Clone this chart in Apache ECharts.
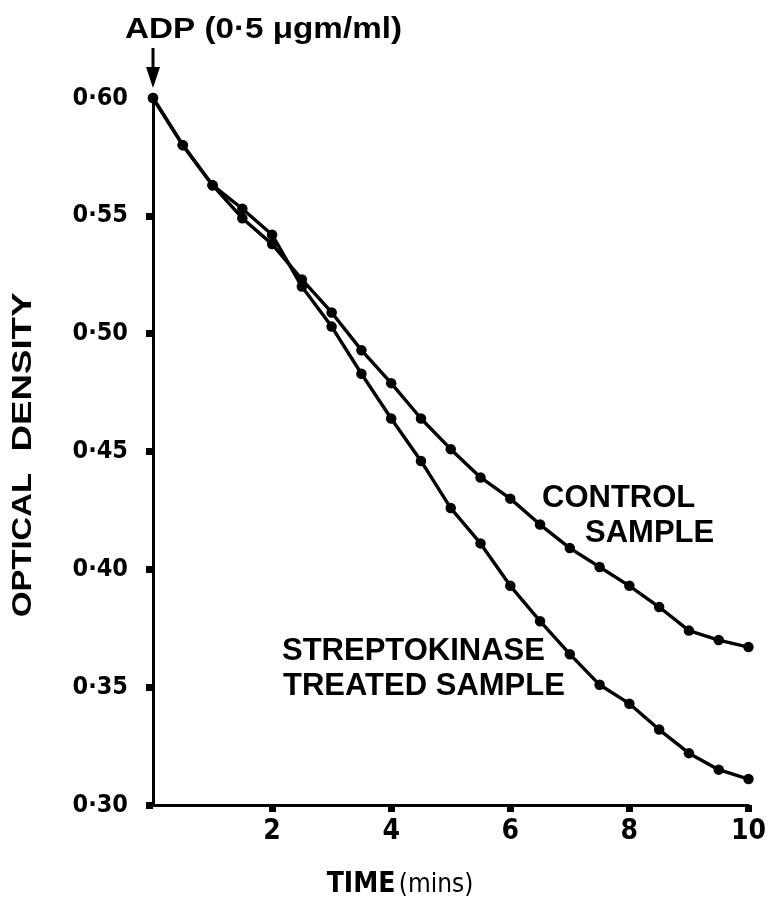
<!DOCTYPE html>
<html><head><meta charset="utf-8">
<script src="https://cdn.jsdelivr.net/npm/echarts@6/dist/echarts.min.js"></script>
<style>html,body{margin:0;padding:0;background:#fff}#c{width:769px;height:905px}</style>
</head><body><div id="c"></div>
<script>
const times = [0,0.5,1,1.5,2,2.5,3,3.5,4,4.5,5,5.5,6,6.5,7,7.5,8,8.5,9,9.5,10];
const controlOD = [0.600,0.580,0.563,0.549,0.538,0.523,0.509,0.493,0.479,0.464,0.451,0.439,0.430,0.419,0.409,0.401,0.393,0.384,0.374,0.370,0.367];
const streptoOD = [0.600,0.580,0.563,0.553,0.542,0.520,0.503,0.483,0.464,0.446,0.426,0.411,0.393,0.378,0.364,0.351,0.343,0.332,0.322,0.315,0.311];
const yTicks = [0.30,0.35,0.40,0.45,0.50,0.55,0.60];
const xTicks = [2,4,6,8,10];

const narrow = "'Liberation Sans Narrow','DejaVu Sans Condensed','Liberation Sans',sans-serif";
const sans = "'Liberation Sans',Arial,sans-serif";

const mctx = document.createElement('canvas').getContext('2d');
function fit(text, font, target){ mctx.font = font; const w = mctx.measureText(text).width; return w > 0 ? target / w : 1; }

const chart = echarts.init(document.getElementById('c'), null, {renderer:'canvas'});
const pair = arr => times.map((t,i)=>[t,arr[i]]);
const lineSeries = (name, arr) => ({
  name, type:'line', data: pair(arr), symbol:'circle', symbolSize:10.5,
  lineStyle:{color:'#000', width:3.4}, itemStyle:{color:'#000'}, animation:false, silent:true
});
chart.setOption({
  animation:false,
  grid:{left:153, right:18, top:98, bottom:100, containLabel:false},
  xAxis:{type:'value', min:0, max:10, interval:2,
    axisLine:{lineStyle:{color:'#000', width:3}},
    axisTick:{show:true, length:7, lineStyle:{color:'#000', width:7}, customValues: xTicks},
    axisLabel:{color:'#000', fontFamily:narrow, fontWeight:'bold', fontSize:28, margin:13,
      customValues: xTicks, formatter: v => String(v)},
    splitLine:{show:false}
  },
  yAxis:{type:'value', min:0.30, max:0.60, interval:0.05,
    axisLine:{lineStyle:{color:'#000', width:3}},
    axisTick:{show:true, length:7, lineStyle:{color:'#000', width:7}, customValues: yTicks.slice(0,6)},
    axisLabel:{color:'#000', fontFamily:narrow, fontWeight:'bold', fontSize:25, margin:25,
      customValues: yTicks, formatter: v => v.toFixed(2).replace('.', '·')},
    splitLine:{show:false}
  },
  series:[lineSeries('Control sample', controlOD), lineSeries('Streptokinase treated sample', streptoOD)]
});

const p0 = chart.convertToPixel({gridIndex:0}, [0, 0.60]);
const titleFont = 'bold 29px ' + sans;
const titleText = 'ADP (0·5 μgm/ml)';
const axFont = 'bold 28px ' + sans;
const lblFont = 'bold 31px ' + sans;
chart.setOption({graphic:[
  {type:'text', x:125, y:30, scaleX: fit(titleText, titleFont, 277), style:{text:titleText, fill:'#000', font:titleFont, align:'left', verticalAlign:'middle'}},
  {type:'line', shape:{x1:p0[0], y1:p0[1]-50, x2:p0[0], y2:p0[1]-24}, style:{stroke:'#000', lineWidth:3}},
  {type:'polygon', shape:{points:[[p0[0]-7,p0[1]-31],[p0[0]+7,p0[1]-31],[p0[0],p0[1]-10]]}, style:{fill:'#000'}},
  {type:'text', x:23, y:545, rotation:Math.PI/2, scaleX: fit('OPTICAL', axFont, 144), style:{text:'OPTICAL', fill:'#000', font:axFont, align:'center', verticalAlign:'middle'}},
  {type:'text', x:23, y:372, rotation:Math.PI/2, scaleX: fit('DENSITY', axFont, 159), style:{text:'DENSITY', fill:'#000', font:axFont, align:'center', verticalAlign:'middle'}},
  {type:'text', x:542, y:498, style:{text:'CONTROL', fill:'#000', font:lblFont, align:'left', verticalAlign:'middle'}},
  {type:'text', x:585, y:533, style:{text:'SAMPLE', fill:'#000', font:lblFont, align:'left', verticalAlign:'middle'}},
  {type:'text', x:282, y:651, style:{text:'STREPTOKINASE', fill:'#000', font:lblFont, align:'left', verticalAlign:'middle'}},
  {type:'text', x:283, y:686, style:{text:'TREATED SAMPLE', fill:'#000', font:lblFont, align:'left', verticalAlign:'middle'}},
  {type:'text', x:400, y:885, style:{text:'{b|TIME} {n|(mins)}', fill:'#000', align:'center', verticalAlign:'middle',
    rich:{b:{fontFamily:narrow, fontWeight:'bold', fontSize:28, fill:'#000'}, n:{fontFamily:narrow, fontWeight:'normal', fontSize:26, fill:'#000'}}}}
]});
</script></body></html>
